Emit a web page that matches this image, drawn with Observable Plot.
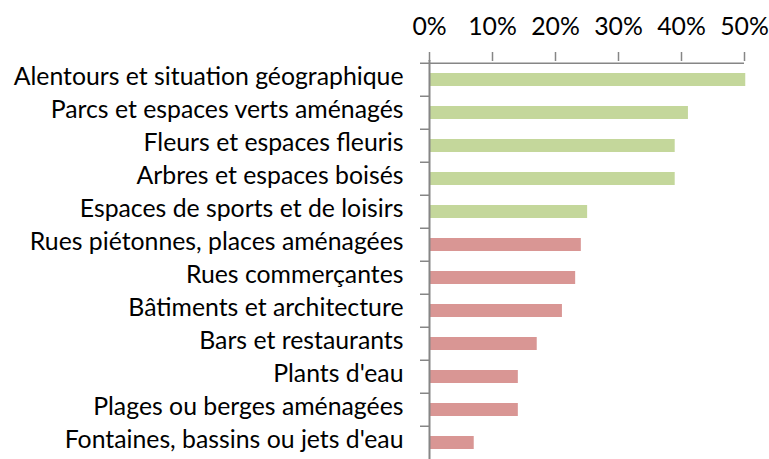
<!DOCTYPE html>
<html>
<head>
<meta charset="utf-8">
<script src="https://cdn.jsdelivr.net/npm/d3@7"></script>
<script src="https://cdn.jsdelivr.net/npm/@observablehq/plot@0.6"></script>
<style>
  html, body { margin: 0; padding: 0; background: #fff; }
  #chart svg { display: block; }
</style>
</head>
<body>
<div id="chart"></div>
<script>
const categories = [
  "Alentours et situation géographique",
  "Parcs et espaces verts aménagés",
  "Fleurs et espaces fleuris",
  "Arbres et espaces boisés",
  "Espaces de sports et de loisirs",
  "Rues piétonnes, places aménagées",
  "Rues commerçantes",
  "Bâtiments et architecture",
  "Bars et restaurants",
  "Plants d'eau",
  "Plages ou berges aménagées",
  "Fontaines, bassins ou jets d'eau"
];
const values = [0.502, 0.411, 0.390, 0.390, 0.251, 0.241, 0.232, 0.211, 0.171, 0.141, 0.141, 0.071];
const groups = ["vert", "vert", "vert", "vert", "vert", "urbain", "urbain", "urbain", "urbain", "urbain", "urbain", "urbain"];
const groupNames = ["vert", "urbain"];
const groupColors = ["#c4d79b", "#d99694"];
const xTicks = [0, 0.1, 0.2, 0.3, 0.4, 0.5];

const data = categories.map((c, i) => ({category: c, value: values[i], group: groups[i]}));

const W = 769, H = 459, mt = 60, mb = -3, ml = 429, mr = 25;
const step = (H - mt - mb) / categories.length;
const gray = "#868686";
const family = "Lato";

function fitSize(text, fam, target) {
  const ctx = document.createElement("canvas").getContext("2d");
  ctx.font = `100px ${fam}`;
  return 100 * target / ctx.measureText(text).width;
}
const fs = Math.min(26, fitSize(categories[0], family, 390));

const chart = Plot.plot({
  width: W,
  height: H,
  marginTop: mt,
  marginBottom: mb,
  marginLeft: ml,
  marginRight: mr,
  style: {fontFamily: family, fontSize: fs + "px", color: "#000", background: "#fff"},
  x: {domain: [0, xTicks[xTicks.length - 1]]},
  y: {domain: categories, paddingInner: 0.6, paddingOuter: 0.3},
  color: {domain: groupNames, range: groupColors},
  marks: [
    Plot.barX(data, {x: "value", y: "category", fill: "group"}),
    Plot.ruleX([0], {stroke: gray, strokeWidth: 2}),
    Plot.ruleY([categories[0]], {y: d => d, x1: 0, x2: xTicks[xTicks.length - 1], dy: -step / 2, stroke: gray, strokeWidth: 1.5}),
    Plot.axisX({anchor: "top", ticks: xTicks, tickFormat: d3.format(".0%"), tickSize: 9, tickPadding: 17, stroke: gray, strokeWidth: 1.5, fill: "#000", fontSize: fs, label: null}),
    Plot.axisY({anchor: "left", tickSize: 9, dy: -step / 2, text: null, stroke: gray, strokeWidth: 1.5, label: null}),
    Plot.axisY({anchor: "left", tickSize: 0, tickPadding: 26, dy: -3, fill: "#000", fontSize: fs, label: null})
  ]
});
document.getElementById("chart").appendChild(chart);
</script>
</body>
</html>
